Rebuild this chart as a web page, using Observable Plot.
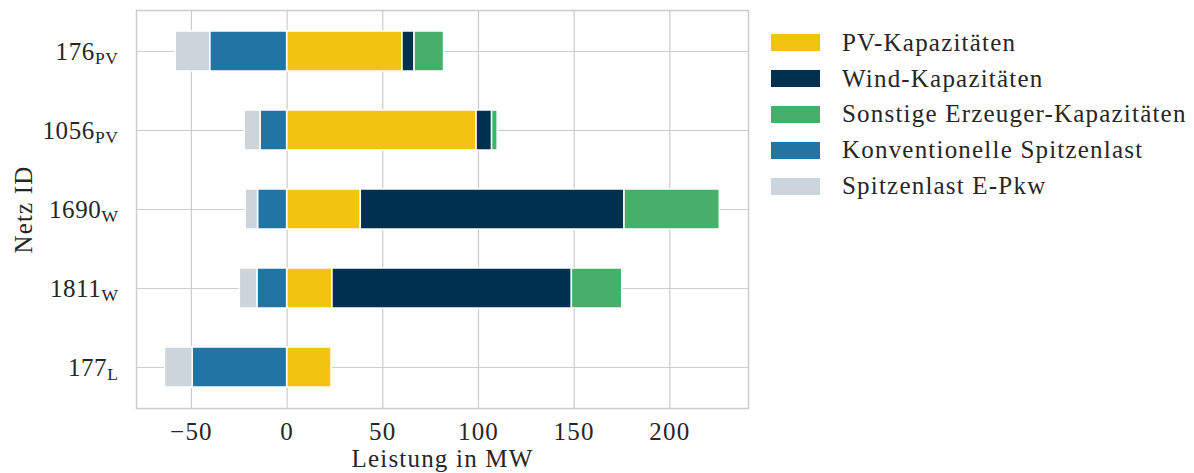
<!DOCTYPE html>
<html>
<head>
<meta charset="utf-8">
<script src="https://cdn.jsdelivr.net/npm/d3@7"></script>
<script src="https://cdn.jsdelivr.net/npm/@observablehq/plot@0.6"></script>
<style>
  body { margin: 0; background: #fff; }
  #chart { position: relative; width: 1194px; height: 473px; font-family: "Liberation Serif", serif; color: #262626; letter-spacing: 1.2px; }
  #chart svg text { font-family: "Liberation Serif", serif; }
  #legend { position: absolute; left: 771px; top: 25px; }
  .item { display: flex; align-items: center; height: 35.8px; font-size: 25px; white-space: nowrap; }
  .swatch { width: 49px; height: 17px; margin-right: 22px; flex: none; }
</style>
</head>
<body>
<div id="chart"></div>
<script>
// Netze (ID + Typ als Tiefstellung)
const netzIds = ["176", "1056", "1690", "1811", "177"];
const netzTyp = ["PV", "PV", "W", "W", "L"];

// Serien und Farben
const serien = [
  "PV-Kapazitäten",
  "Wind-Kapazitäten",
  "Sonstige Erzeuger-Kapazitäten",
  "Konventionelle Spitzenlast",
  "Spitzenlast E-Pkw"
];
const farben = ["#f1c411", "#003050", "#46b06a", "#2274a5", "#ccd4dc"];

// Werte in MW (Erzeugung positiv, Lasten nach links)
const pvKap     = [60.3, 99.0, 38.5, 23.7, 23.2];
const windKap   = [6.3, 8.1, 137.8, 125.1, 0];
const sonstKap  = [15.4, 2.9, 49.8, 26.3, 0];
const konvLast  = [40.2, 13.9, 15.2, 15.5, 49.3];
const epkwLast  = [18.0, 8.2, 6.4, 9.2, 14.5];

const xTicks = [-50, 0, 50, 100, 150, 200];

const netzKeys = netzIds.map((id, i) => id + "_" + netzTyp[i]);
const werte = [pvKap, windKap, sonstKap, konvLast.map(v => -v), epkwLast.map(v => -v)];

const rows = [];
netzKeys.forEach((netz, i) => {
  serien.forEach((serie, s) => {
    const wert = werte[s][i];
    if (wert !== 0) rows.push({netz, serie, wert});
  });
});

const grid = "#cccccc";

const plot = Plot.plot({
  width: 1194,
  height: 473,
  marginLeft: 136,
  marginRight: 446,
  marginTop: 10,
  marginBottom: 65,
  style: {fontFamily: "'Liberation Serif', serif", fontSize: "25px", color: "#262626", background: "white", letterSpacing: "1.2px"},
  x: {domain: [-78.7, 241.1]},
  y: {domain: netzKeys, paddingInner: 0.5, paddingOuter: 0.25},
  color: {domain: serien, range: farben},
  marks: [
    Plot.gridX(xTicks, {stroke: grid, strokeOpacity: 1, strokeWidth: 1.2}),
    Plot.gridY(netzKeys, {stroke: grid, strokeOpacity: 1, strokeWidth: 1.2}),
    Plot.frame({stroke: grid, strokeWidth: 1.5}),
    Plot.barX(rows, Plot.stackX({
      y: "netz", x: "wert", z: "serie", fill: "serie",
      stroke: "white", strokeWidth: 1.5
    })),
    Plot.axisX(xTicks, {
      tickSize: 0, tickPadding: 14, tickFormat: d => d3.format("")(d).replace("-", "−"),
      label: "Leistung in MW", labelAnchor: "center", labelArrow: "none", labelOffset: 58
    }),
    Plot.axisY(netzKeys, {
      tickSize: 0, tickPadding: 18, tickFormat: d => d,
      label: "Netz ID", labelAnchor: "center", labelArrow: "none", labelOffset: 122
    })
  ]
});

// Typ als tiefgestellten Zusatz an die Netz-IDs hängen
d3.select(plot).selectAll('g[aria-label="y-axis tick label"] text').each(function () {
  const [id, typ] = this.textContent.split("_");
  const t = d3.select(this);
  t.text(id).style("letter-spacing", "0.6px");
  t.append("tspan").attr("font-size", "0.7em").attr("dy", "0.25em").text(typ);
});

const chart = document.getElementById("chart");
chart.appendChild(plot);

// Legende
const legend = d3.select(chart).append("div").attr("id", "legend");
serien.forEach((s, i) => {
  const item = legend.append("div").attr("class", "item");
  item.append("div").attr("class", "swatch").style("background", farben[i]);
  item.append("span").text(s);
});
</script>
</body>
</html>
